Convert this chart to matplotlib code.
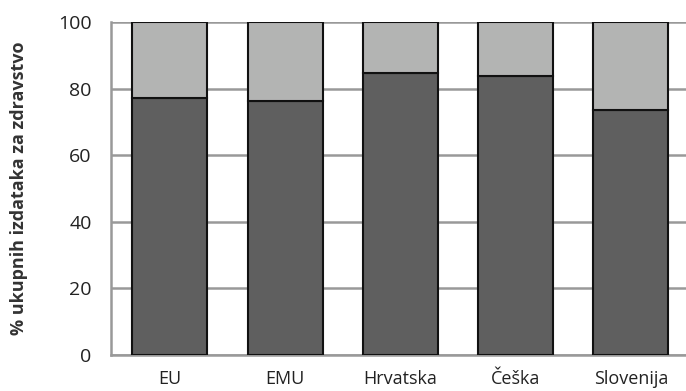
import matplotlib
matplotlib.use("Agg")
import matplotlib.pyplot as plt

categories = ["EU", "EMU", "Hrvatska", "Češka", "Slovenija"]
public_share = [77.2, 76.4, 84.6, 83.8, 73.6]
private_share = [100 - v for v in public_share]
yticks = [0, 20, 40, 60, 80, 100]

plt.rcParams['font.family'] = ['Open Sans', 'DejaVu Sans']

fig = plt.figure(figsize=(6.86, 3.91), dpi=100)
ax = fig.add_axes([111/686, 1 - 355/391, 1 - 111/686 + 0.002, 333/391])

x = range(len(categories))
ax.bar(x, public_share, width=0.65, color="#5f5f5f", edgecolor="#111111", linewidth=1.5, zorder=3)
ax.bar(x, private_share, bottom=public_share, width=0.65, color="#b3b4b3", edgecolor="#111111", linewidth=1.5, zorder=3)

ax.set_xlim(-0.51, 4.49)
ax.set_ylim(0, 100)
ax.set_yticks(yticks)
ax.set_xticks(list(x))
ax.set_xticklabels(categories, fontsize=13, color="#222222")
ax.tick_params(axis='y', labelsize=14, colors="#222222", length=0, pad=14)
ax.tick_params(axis='x', length=0, pad=11)
ax.yaxis.grid(True, color="#999999", linewidth=1.8, zorder=0)
ax.set_axisbelow(True)
for s in ["top", "right"]:
    ax.spines[s].set_visible(False)
for s in ["left", "bottom"]:
    ax.spines[s].set_color("#999999")
    ax.spines[s].set_linewidth(1.8)

ax.set_ylabel("% ukupnih izdataka za zdravstvo", fontsize=13, fontweight="bold", color="#333333")
ax.yaxis.set_label_coords(-83/575, 0.5)

fig.savefig("out.png", dpi=100)
